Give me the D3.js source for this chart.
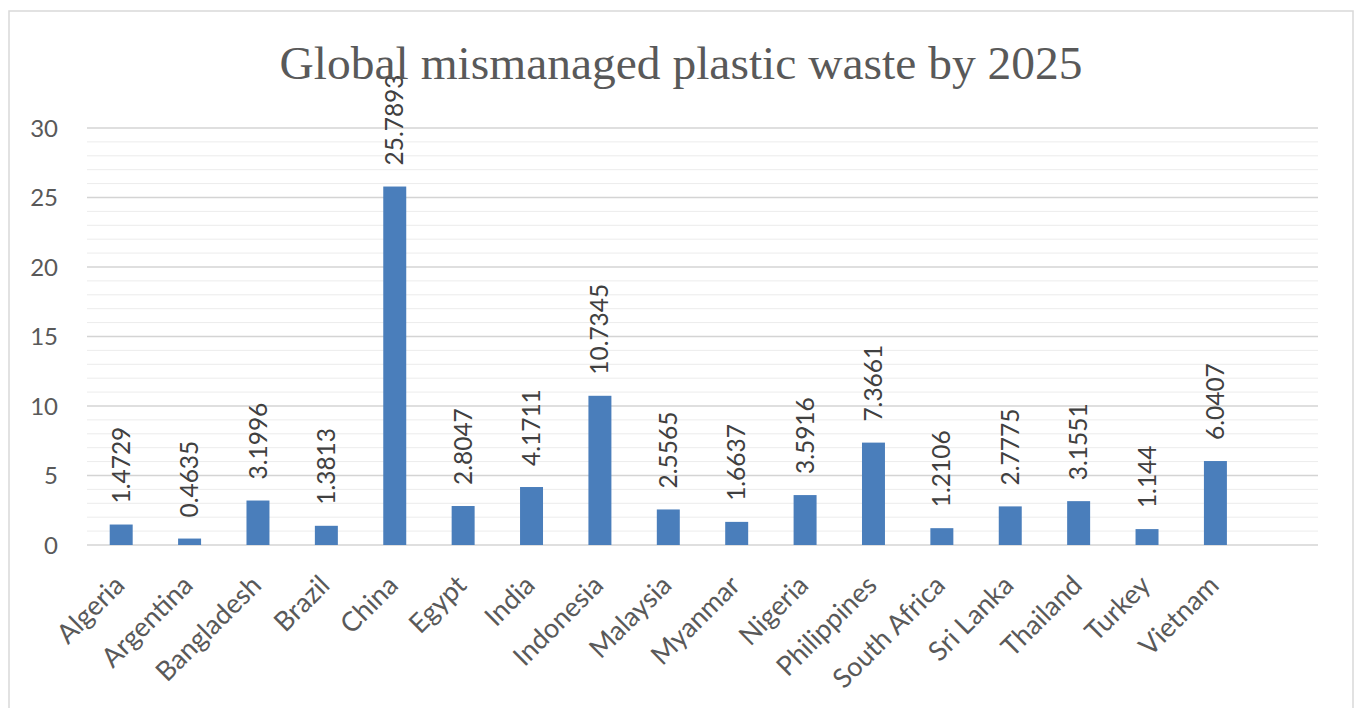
<!DOCTYPE html>
<html>
<head>
<meta charset="utf-8">
<script src="https://cdn.jsdelivr.net/npm/d3@7"></script>
<style>
  html, body { margin: 0; padding: 0; background: #ffffff; }
  svg { display: block; }
</style>
</head>
<body>
<svg id="chart" width="1355" height="708"></svg>
<script>
// ---- data ----
const title = "Global mismanaged plastic waste by 2025";
const categories = ["Algeria", "Argentina", "Bangladesh", "Brazil", "China", "Egypt", "India",
  "Indonesia", "Malaysia", "Myanmar", "Nigeria", "Philippines", "South Africa", "Sri Lanka",
  "Thailand", "Turkey", "Vietnam", ""];
const values = [1.4729, 0.4635, 3.1996, 1.3813, 25.7893, 2.8047, 4.1711, 10.7345, 2.5565,
  1.6637, 3.5916, 7.3661, 1.2106, 2.7775, 3.1551, 1.144, 6.0407, null];
const valueLabels = ["1.4729", "0.4635", "3.1996", "1.3813", "25.7893", "2.8047", "4.1711",
  "10.7345", "2.5565", "1.6637", "3.5916", "7.3661", "1.2106", "2.7775", "3.1551", "1.144",
  "6.0407", ""];
const yTickValues = [0, 5, 10, 15, 20, 25, 30];
const yTickLabels = ["0", "5", "10", "15", "20", "25", "30"];

// ---- layout ----
const svg = d3.select("#chart");
const plot = { left: 87, right: 1318, top: 128, bottom: 545 };
const barColor = "#4a7ebb";
const textGrey = "#595959";
const labelGrey = "#404040";
const sansFont = "Lato, 'Noto Sans', sans-serif";

// frame
svg.append("rect")
  .attr("x", 9).attr("y", 11)
  .attr("width", 1344).attr("height", 720)
  .attr("fill", "#ffffff")
  .attr("stroke", "#d9d9d9").attr("stroke-width", 1.5);

const x = d3.scaleBand()
  .domain(categories)
  .range([plot.left, plot.right])
  .paddingInner(0.664)
  .paddingOuter(0.332);

const y = d3.scaleLinear()
  .domain([0, 30])
  .range([plot.bottom, plot.top]);

// minor gridlines
const minor = y.ticks(30).filter(t => t % 5 !== 0);
svg.append("g").selectAll("line").data(minor).join("line")
  .attr("x1", plot.left).attr("x2", plot.right)
  .attr("y1", d => y(d)).attr("y2", d => y(d))
  .attr("stroke", "#ececec").attr("stroke-width", 1);

// major gridlines
svg.append("g").selectAll("line").data(yTickValues).join("line")
  .attr("x1", plot.left).attr("x2", plot.right)
  .attr("y1", d => y(d)).attr("y2", d => y(d))
  .attr("stroke", "#d4d4d4").attr("stroke-width", 1.5);

// y axis labels
const yAxis = d3.axisLeft(y).tickValues(yTickValues)
  .tickFormat((d, i) => yTickLabels[i]).tickSize(0).tickPadding(0);
const yg = svg.append("g").attr("transform", `translate(58,0)`).call(yAxis);
yg.select(".domain").remove();
yg.selectAll("text")
  .attr("font-family", sansFont).attr("font-size", 24)
  .attr("fill", textGrey).attr("dy", "0.35em");

// bars
const data = categories.map((c, i) => ({ c, v: values[i], label: valueLabels[i] }))
  .filter(d => d.v !== null);

svg.append("g").selectAll("rect").data(data).join("rect")
  .attr("x", d => x(d.c))
  .attr("width", x.bandwidth())
  .attr("y", d => y(d.v))
  .attr("height", d => y(0) - y(d.v))
  .attr("fill", barColor);

// value labels
svg.append("g").selectAll("text").data(data).join("text")
  .attr("transform", d => `translate(${x(d.c) + x.bandwidth() / 2},${y(d.v) - 21}) rotate(-90)`)
  .attr("text-anchor", "start")
  .attr("dy", "0.35em")
  .attr("font-family", sansFont).attr("font-size", 24.5)
  .attr("fill", labelGrey)
  .text(d => d.label);

// x axis labels
const xAxis = d3.axisBottom(x).tickSize(0).tickPadding(0)
  .tickValues(categories.filter(c => c !== ""));
const xg = svg.append("g").attr("transform", `translate(0,${plot.bottom})`).call(xAxis);
xg.select(".domain").remove();
xg.selectAll("text")
  .attr("font-family", sansFont).attr("font-size", 27)
  .attr("fill", textGrey)
  .attr("text-anchor", "end")
  .attr("dy", 0).attr("y", 0)
  .attr("transform", "translate(5,42) rotate(-45)");

// title
const t = svg.append("text")
  .attr("x", 681).attr("y", 79)
  .attr("text-anchor", "middle")
  .attr("font-family", "'Liberation Serif', 'DejaVu Serif', serif")
  .attr("font-size", 45)
  .attr("fill", textGrey)
  .text(title);
const len = t.node().getComputedTextLength();
t.attr("font-size", 45 * 803 / len);
</script>
</body>
</html>
